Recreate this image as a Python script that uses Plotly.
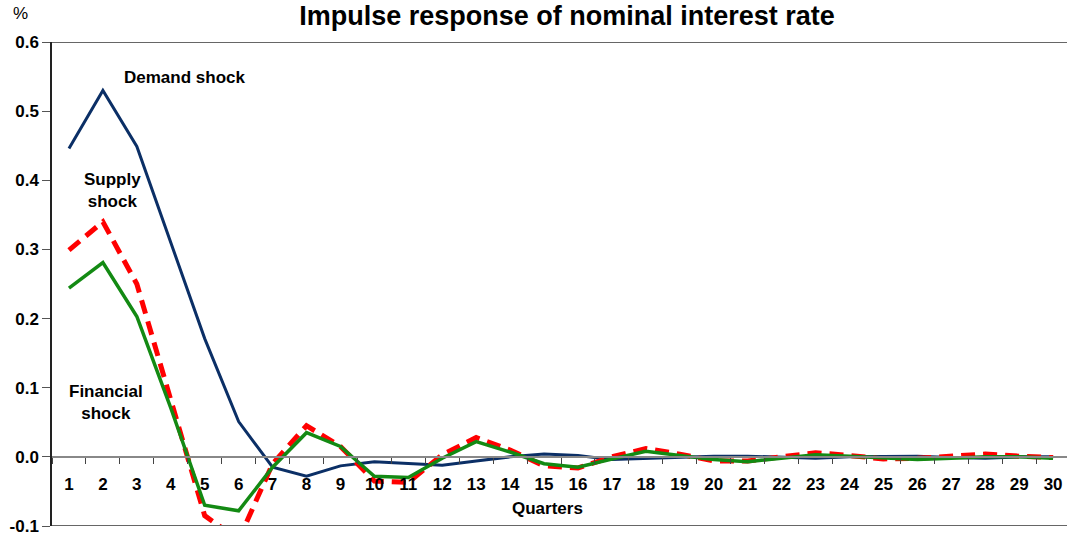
import plotly.graph_objects as go

quarters = [str(i) for i in range(1, 31)]
demand = [0.446, 0.530, 0.449, 0.310, 0.171, 0.051, -0.015, -0.028, -0.013, -0.007,
          -0.010, -0.012, -0.006, 0.000, 0.004, 0.002, -0.004, -0.002, 0.000, 0.001,
          0.001, -0.001, -0.002, 0.000, 0.001, 0.001, -0.001, -0.002, 0.000, 0.000]
supply = [0.299, 0.340, 0.250, 0.080, -0.085, -0.120, -0.010, 0.045, 0.015, -0.035,
          -0.037, 0.003, 0.028, 0.010, -0.013, -0.016, 0.000, 0.012, 0.004, -0.006,
          -0.006, 0.000, 0.006, 0.002, -0.003, -0.002, 0.001, 0.004, 0.001, -0.001]
financial = [0.244, 0.281, 0.203, 0.071, -0.070, -0.078, -0.015, 0.035, 0.015, -0.028,
             -0.030, -0.002, 0.022, 0.007, -0.010, -0.015, -0.003, 0.008, 0.002, -0.004,
             -0.007, -0.002, 0.003, 0.001, -0.002, -0.004, -0.002, 0.000, 0.000, -0.002]
y_ticks = [-0.1, 0.0, 0.1, 0.2, 0.3, 0.4, 0.5, 0.6]
y_labels = ["-0.1", "0.0", "0.1", "0.2", "0.3", "0.4", "0.5", "0.6"]

FONT = "Liberation Sans"
FS = 17

fig = go.Figure()
fig.add_trace(go.Scatter(x=quarters, y=demand, mode="lines",
                         line=dict(color="#0B2F66", width=3), name="Demand shock"))
fig.add_trace(go.Scatter(x=quarters, y=supply, mode="lines",
                         line=dict(color="#FF0000", width=5, dash="14px,8px"), name="Supply shock"))
fig.add_trace(go.Scatter(x=quarters, y=financial, mode="lines",
                         line=dict(color="#138A13", width=3.5), name="Financial shock"))

fig.update_layout(
    width=1067, height=538,
    margin=dict(l=52, r=0, t=42, b=12, autoexpand=False),
    paper_bgcolor="white", plot_bgcolor="white",
    showlegend=False,
    font=dict(family=FONT, color="black", size=FS),
    title=dict(text="<b>Impulse response of nominal interest rate</b>",
               x=(567 - 52) / 1015, xanchor="center", xref="paper",
               y=1 - 16 / 538, yanchor="middle", yref="container",
               font=dict(family=FONT, size=27, color="black"), automargin=False),
)

fig.update_yaxes(
    range=[-0.1, 0.6], tickvals=y_ticks, ticktext=[f"<b>{t}</b>" for t in y_labels],
    showgrid=False, zeroline=False, showline=True, linecolor="#222222", linewidth=1.5,
    ticks="outside", ticklen=8, tickcolor="#555555", tickfont=dict(size=FS, family=FONT),
    automargin=False,
)
fig.update_xaxes(
    type="category", range=[-0.5, 29.41],
    tickvals=quarters, ticktext=[f"<b>{q}</b>" for q in quarters],
    tickson="boundaries",
    anchor="free", position=(0 - (-0.1)) / 0.7,
    showgrid=False, zeroline=False, showline=True, linecolor="#888888", linewidth=2,
    ticks="outside", ticklen=6, tickcolor="#444444", tickfont=dict(size=FS, family=FONT),
    ticklabelstandoff=12, automargin=False,
)

# top and bottom frame lines
fig.add_shape(type="line", xref="paper", yref="y", x0=0, x1=1, y0=0.6, y1=0.6,
              line=dict(color="#666666", width=2))
fig.add_shape(type="line", xref="paper", yref="y", x0=0, x1=1, y0=-0.1, y1=-0.1,
              line=dict(color="#666666", width=2))

ann_font = dict(family=FONT, size=FS, color="black")
fig.add_annotation(x=3.39, y=0.549, xref="x", yref="y", text="<b>Demand shock</b>",
                   showarrow=False, font=ann_font)
fig.add_annotation(x=1.27, y=0.385, xref="x", yref="y", text="<b>Supply<br>shock</b>",
                   showarrow=False, font=ann_font, align="center")
fig.add_annotation(x=1.09, y=0.078, xref="x", yref="y", text="<b>Financial<br>shock</b>",
                   showarrow=False, font=ann_font, align="center")
fig.add_annotation(x=14.1, y=-0.075, xref="x", yref="y", text="<b>Quarters</b>",
                   showarrow=False, font=ann_font)
# "%" unit label above the y axis (paper coords relative to plot area)
fig.add_annotation(x=(20 - 52) / 1015, y=1 + (42 - 14) / 484, xref="paper", yref="paper",
                   text="%", showarrow=False, xanchor="center", yanchor="middle",
                   font=dict(family=FONT, size=FS, color="black"))

fig.write_html("out.html", config={"displayModeBar": False},
               post_script="document.body.style.margin='0';document.body.style.overflow='hidden';")
